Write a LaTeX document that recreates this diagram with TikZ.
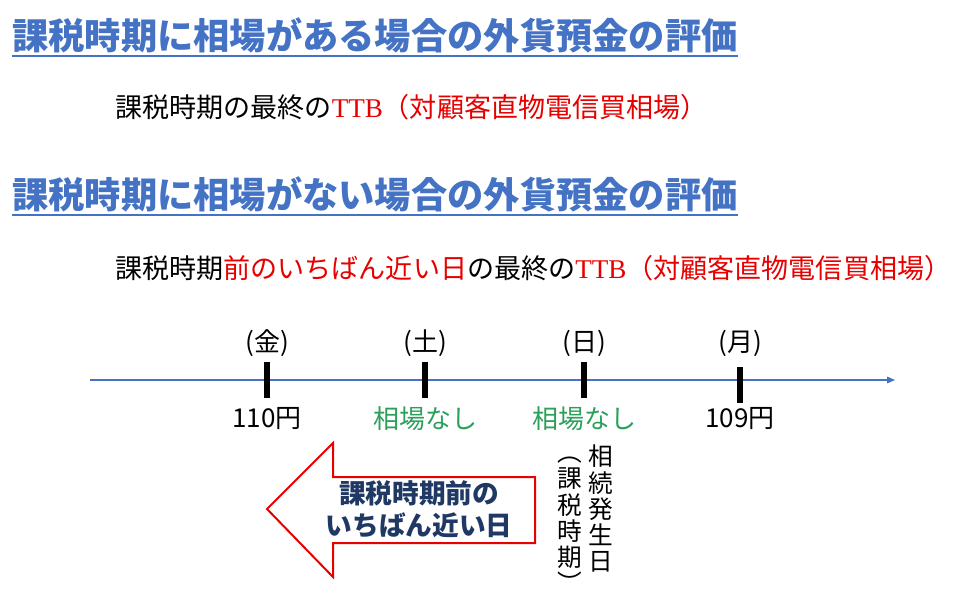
\documentclass[tikz,border=0pt]{standalone}
\usepackage{fontspec}
\setmainfont{Noto Sans CJK JP}
\newfontfamily\ttbfont{Liberation Serif}
\usepackage{xcolor}
\usetikzlibrary{arrows.meta}
\definecolor{titleblue}{RGB}{68,114,196}
\definecolor{ttbred}{RGB}{230,0,0}
\definecolor{nashigreen}{RGB}{44,160,90}
\definecolor{navy}{RGB}{31,56,100}
\tikzset{
  title/.style={anchor=west, inner sep=0pt, text=titleblue,
    font=\fontsize{27.2}{30}\selectfont\bfseries},
  rule/.style={titleblue, line width=1.6pt},
  body/.style={anchor=west, inner sep=0pt, font=\fontsize{20.3}{22}\selectfont},
  lbl/.style={inner sep=0pt, font=\fontsize{19.5}{22}\selectfont},
  tate/.style={anchor=north, inner sep=0pt, align=center,
    font=\fontsize{18.5}{19.6}\selectfont}
}
\begin{document}
\begin{tikzpicture}[x=0.75pt,y=-0.75pt]
\useasboundingbox (0,0) rectangle (959,595);
% заголовки
\node [title] (title1) at (12,35) {課税時期に相場がある場合の外貨預金の評価};
\draw [rule] ([yshift=-2pt]title1.south west) -- ([yshift=-2pt]title1.south east);
\node [title] (title2) at (12,194) {課税時期に相場がない場合の外貨預金の評価};
\draw [rule] ([yshift=-2pt]title2.south west) -- ([yshift=-2pt]title2.south east);
% текст
\node [body] (rate1) at (115,107) {課税時期の最終の\textcolor{ttbred}{{\ttbfont TTB}（対顧客直物電信買相場）}};
\node [body] (rate2) at (115,268) {課税時期\textcolor{ttbred}{前のいちばん近い日}の最終の\textcolor{ttbred}{{\ttbfont TTB}（対顧客直物電信買相場）}};
% ось
\coordinate (axstart) at (90,380);
\coordinate (axend) at (895,380);
\draw [titleblue, line width=0.8pt, -{Triangle[length=6pt,width=5pt]}] (axstart) -- (axend);
% дни
\foreach \x/\d/\v/\c/\s [count=\i] in {267/金/110円/black/0, 425/土/相場なし/nashigreen/0,
    584/日/相場なし/nashigreen/0, 740/月/109円/black/5} {
  \draw [line width=4.5pt] (\x,362+\s) -- (\x,398+\s);
  \node [lbl] (day\i) at (\x,343) {(\d)};
  \node [lbl, text=\c] (rate\i) at (\x,419) {\v};
}
% стрелка
\draw [ttbred, line width=1.5pt, line join=miter, fill=white]
  (267,509) -- (333,443) -- (333,477) -- (535,477) -- (535,543) -- (333,543) -- (333,577) -- cycle;
\node [align=center, text=navy, font=\fontsize{20}{24}\selectfont\bfseries] (before) at (419,509)
  {課税時期前の\\いちばん近い日};
% вертикальный текст
\node [tate] (souzoku) at (601,445) {相\\続\\発\\生\\日};
\node [tate] (kazei) at (570,457) {︵\\課\\税\\時\\期\\︶};
\end{tikzpicture}
\end{document}
